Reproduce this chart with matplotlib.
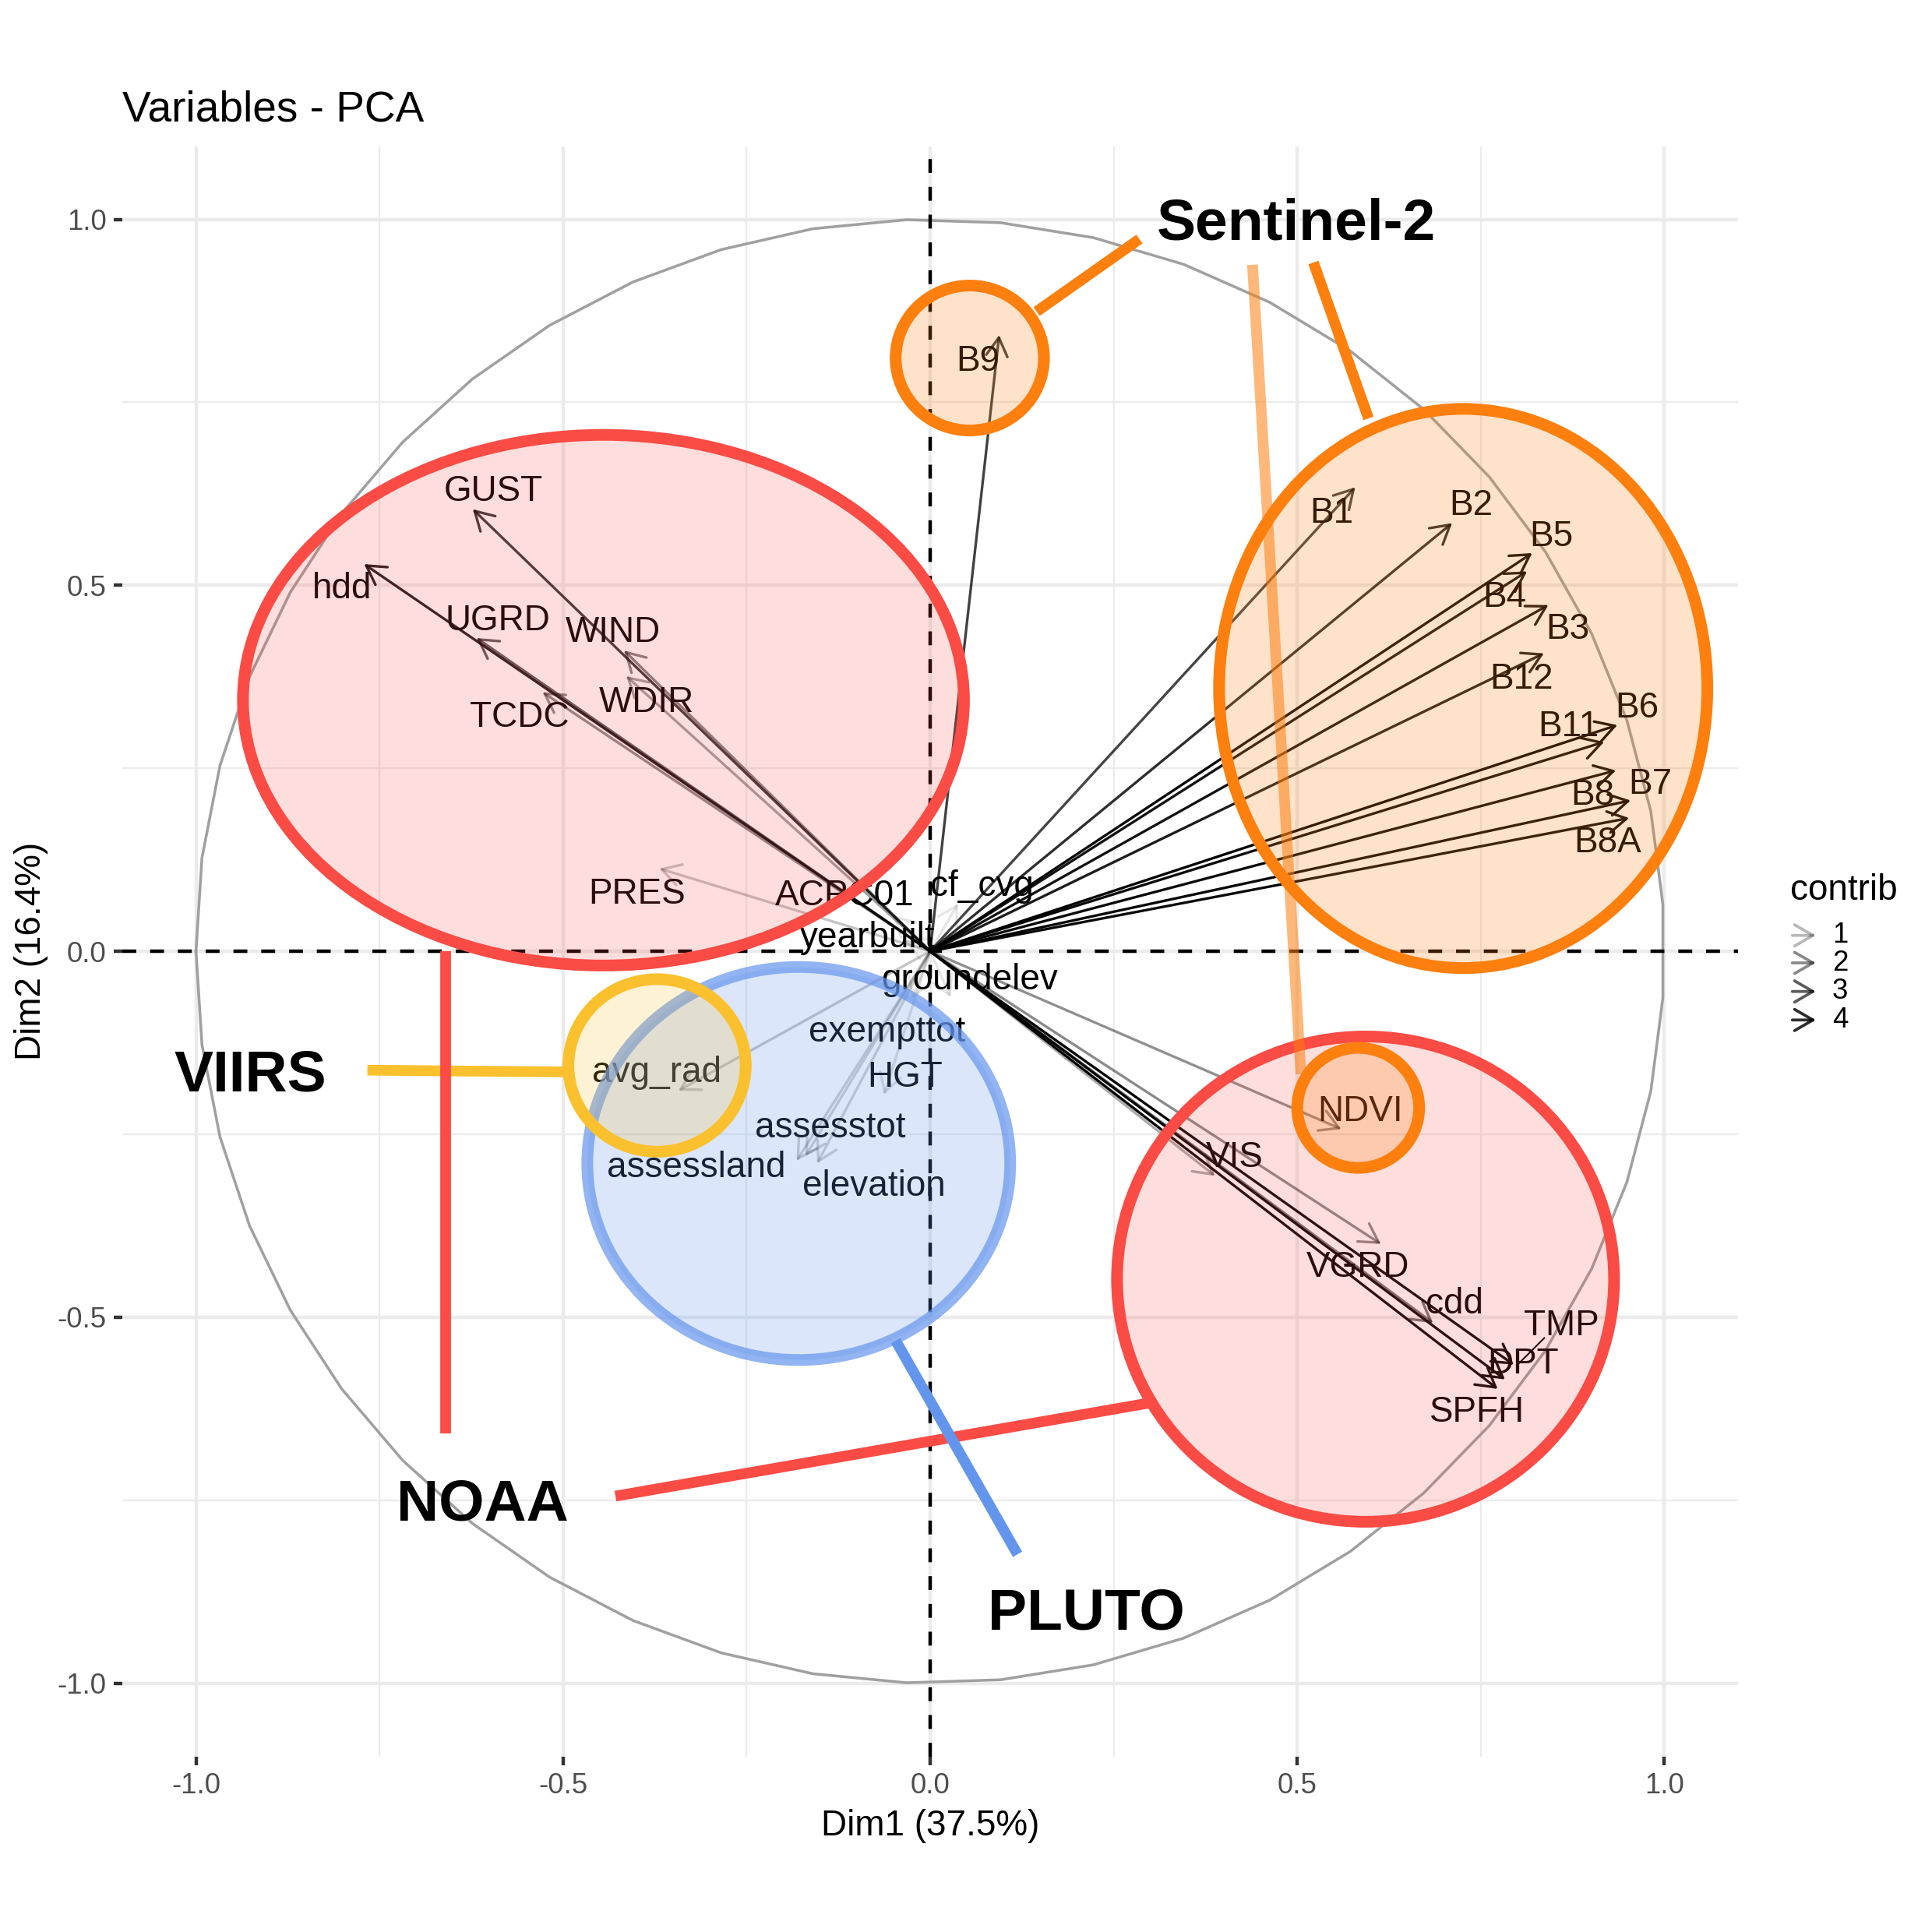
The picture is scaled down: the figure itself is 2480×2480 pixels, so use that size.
import numpy as np
import matplotlib
matplotlib.use("Agg")
import matplotlib.pyplot as plt
from matplotlib.patches import Ellipse, FancyArrowPatch

plt.rcParams['font.family'] = ['Liberation Sans', 'DejaVu Sans']

# ---------------- data ----------------
variables = ['B1', 'B2', 'B3', 'B4', 'B5', 'B6', 'B7', 'B8', 'B8A', 'B9', 'B11', 'B12', 'NDVI',
             'GUST', 'hdd', 'UGRD', 'WIND', 'WDIR', 'TCDC', 'PRES', 'ACPC01',
             'cf_cvg', 'yearbuilt', 'groundelev', 'exempttot', 'HGT', 'avg_rad',
             'assesstot', 'assessland', 'elevation',
             'VIS', 'VGRD', 'cdd', 'TMP', 'DPT', 'SPFH']
dim1 = [0.579, 0.711, 0.842, 0.813, 0.820, 0.936, 0.934, 0.954, 0.952, 0.094, 0.918, 0.836, 0.560,
        -0.623, -0.771, -0.618, -0.417, -0.414, -0.528, -0.369, -0.050,
        0.038, -0.035, 0.028, -0.025, -0.063, -0.343,
        -0.170, -0.182, -0.154,
        0.388, 0.614, 0.685, 0.795, 0.783, 0.773]
dim2 = [0.634, 0.585, 0.473, 0.519, 0.544, 0.309, 0.247, 0.206, 0.182, 0.842, 0.286, 0.407, -0.243,
        0.604, 0.529, 0.428, 0.411, 0.376, 0.354, 0.113, 0.049,
        0.065, 0.015, -0.063, -0.066, -0.196, -0.1905,
        -0.280, -0.2863, -0.2899,
        -0.307, -0.400, -0.508, -0.565, -0.585, -0.598]
contrib = [3.5, 4.0, 4.6, 4.6, 4.8, 5.0, 4.8, 4.9, 4.8, 3.6, 4.8, 4.4, 1.9,
           3.8, 4.4, 3.0, 2.2, 1.5, 2.0, 0.75, 0.05,
           0.03, 0.02, 0.02, 0.03, 0.2, 0.75,
           0.5, 0.55, 0.5,
           1.3, 2.0, 2.5, 4.9, 4.9, 4.9]
# label positions (centre x, baseline y) as placed by the repel step
label_x = [0.547, 0.737, 0.868, 0.782, 0.846, 0.963, 0.981, 0.902, 0.923, 0.065, 0.869, 0.805, 0.586,
           -0.595, -0.801, -0.589, -0.432, -0.386, -0.559, -0.399, -0.116,
           0.071, -0.085, 0.054, -0.059, -0.034, -0.372,
           -0.136, -0.319, -0.077,
           0.415, 0.583, 0.714, 0.860, 0.808, 0.745]
label_y = [0.585, 0.596, 0.427, 0.471, 0.554, 0.319, 0.2155, 0.2005, 0.135, 0.793, 0.294, 0.359, -0.2316,
           0.615, 0.4826, 0.4385, 0.423, 0.3268, 0.307, 0.0655, 0.063,
           0.0756, 0.0057, -0.0522, -0.1238, -0.1852, -0.179,
           -0.2544, -0.3083, -0.3342,
           -0.295, -0.4444, -0.4948, -0.5248, -0.5769, -0.6424]
# repel segment for TMP
tmp_segment = [(0.8364, -0.5285), (0.7993, -0.5657)]

legend_breaks = [1, 2, 3, 4]
tick_vals = [-1.0, -0.5, 0.0, 0.5, 1.0]
tick_labels = ['-1.0', '-0.5', '0.0', '0.5', '1.0']
minor_vals = [-0.75, -0.25, 0.25, 0.75]

title = 'Variables - PCA'
xlab = 'Dim1 (37.5%)'
ylab = 'Dim2 (16.4%)'

# highlight annotations (overlay): name -> (cx, cy, width, height)
ORANGE = '#FD7F0E'
RED = '#FB4B45'
BLUE = '#6495ED'
YELLOW = '#FBC02D'
groups_ellipses = [
    ('NOAA-1', (-0.445, 0.343, 0.982, 0.725), RED, 0.18, 1.0),
    ('NOAA-2', (0.593, -0.448, 0.677, 0.663), RED, 0.18, 1.0),
    ('PLUTO', (-0.179, -0.290, 0.576, 0.537), BLUE, 0.23, 0.7),
    ('VIIRS', (-0.372, -0.156, 0.2415, 0.2357), YELLOW, 0.2, 1.0),
    ('S2-big', (0.726, 0.359, 0.665, 0.764), ORANGE, 0.22, 1.0),
    ('S2-B9', (0.054, 0.8105, 0.202, 0.198), ORANGE, 0.22, 1.0),
    ('S2-NDVI', (0.583, -0.214, 0.166, 0.164), ORANGE, 0.22, 1.0),
]
group_lines = [
    ((0.285, 0.973), (0.145, 0.874), ORANGE, 1.0),
    ((0.522, 0.941), (0.597, 0.728), ORANGE, 1.0),
    ((0.439, 0.938), (0.505, -0.168), ORANGE, 0.55),
    ((-0.7665, -0.1625), (-0.4986, -0.1649), YELLOW, 1.0),
    ((-0.660, 0.0), (-0.660, -0.659), RED, 1.0),
    ((-0.4286, -0.7445), (0.3055, -0.616), RED, 1.0),
    ((-0.047, -0.532), (0.119, -0.824), BLUE, 1.0),
]
group_labels = [
    ('Sentinel-2', 0.499, 0.972),
    ('VIIRS', -0.926, -0.191),
    ('NOAA', -0.610, -0.778),
    ('PLUTO', 0.213, -0.926),
]

# ---------------- figure ----------------
W = 2480
fig = plt.figure(figsize=(W / 300, W / 300), dpi=300)
ax = fig.add_axes([157.3 / W, 1 - 2254.5 / W, (2230.7 - 157.3) / W, (2254.5 - 187.6) / W])
ax.set_xlim(-1.1, 1.1)
ax.set_ylim(-1.1, 1.1)
for s in ax.spines.values():
    s.set_visible(False)
ax.set_xticks(tick_vals)
ax.set_xticklabels(tick_labels)
ax.set_yticks(tick_vals)
ax.set_yticklabels(tick_labels)
ax.set_xticks(minor_vals, minor=True)
ax.set_yticks(minor_vals, minor=True)
ax.tick_params(which='major', length=2.75, width=1.07, color='#333333',
               labelsize=8.8, labelcolor='#4D4D4D', pad=2.2)
ax.tick_params(which='minor', length=0)
ax.grid(which='major', color='#EBEBEB', lw=1.07)
ax.grid(which='minor', color='#EBEBEB', lw=0.53)
ax.set_axisbelow(True)

ax.set_xlabel(xlab, fontsize=11, labelpad=2.75)
ax.set_ylabel(ylab, fontsize=11, labelpad=2.75)
ax.set_title(title, loc='left', fontsize=13.2, pad=7.8)

# correlation circle
theta = np.linspace(-np.pi, np.pi, 50)
ax.plot(np.cos(theta), np.sin(theta), color='#A0A0A0', lw=0.85, zorder=2)

# dashed reference lines
ax.axhline(0, color='black', lw=1.07, ls=(0, (4, 4)), zorder=2)
ax.axvline(0, color='black', lw=1.07, ls=(0, (4, 4)), zorder=2)

cmin, cmax = min(contrib), max(contrib)


def alpha_of(c):
    return 0.1 + 0.9 * (c - cmin) / (cmax - cmin)


ASTYLE = '->,head_length=0.4,head_width=0.231'
for name, x, y, c in zip(variables, dim1, dim2, contrib):
    a = max(0.0, min(1.0, alpha_of(c)))
    ax.add_patch(FancyArrowPatch((0, 0), (x, y), arrowstyle=ASTYLE, mutation_scale=14.2,
                                 lw=0.8, color=(0, 0, 0, a), shrinkA=0, shrinkB=0,
                                 zorder=3))

ax.plot([p[0] for p in tmp_segment], [p[1] for p in tmp_segment], color='black', lw=0.5, zorder=3)

for name, lx, ly in zip(variables, label_x, label_y):
    ax.text(lx, ly, name, fontsize=11, ha='center', va='baseline', color='black', zorder=4)

# overlay highlights
for name, (cx, cy, w, h), col, fa, ea in groups_ellipses:
    ax.add_patch(Ellipse((cx, cy), w, h, facecolor=col, alpha=fa, edgecolor='none', zorder=5))
    ax.add_patch(Ellipse((cx, cy), w, h, facecolor='none', edgecolor=col, alpha=ea,
                         lw=3.6, zorder=5))

for p0, p1, col, a in group_lines:
    ax.plot([p0[0], p1[0]], [p0[1], p1[1]], color=col, alpha=a, lw=3.3,
            solid_capstyle='butt', zorder=6)

for txt, x, y in group_labels:
    ax.text(x, y, txt, fontsize=18, fontweight='bold', ha='center', va='baseline',
            color='black', zorder=7)

# legend (contrib)
fig.text(2298 / W, 1 - 1155 / W, 'contrib', fontsize=11, ha='left', va='baseline')
key_y = [1200.7, 1236.0, 1272.7, 1309.3]
for b, ky in zip(legend_breaks, key_y):
    yy = 1 - ky / W
    fig.add_artist(FancyArrowPatch((2300.7 / W, yy), (2331 / W, yy), transform=fig.transFigure,
                                   arrowstyle=ASTYLE, mutation_scale=14.2, lw=0.9,
                                   color=(0, 0, 0, alpha_of(b)), shrinkA=0, shrinkB=0))
    fig.text(2352 / W, yy, str(b), fontsize=8.8, ha='left', va='center')

fig.savefig('out.png', dpi=300)
